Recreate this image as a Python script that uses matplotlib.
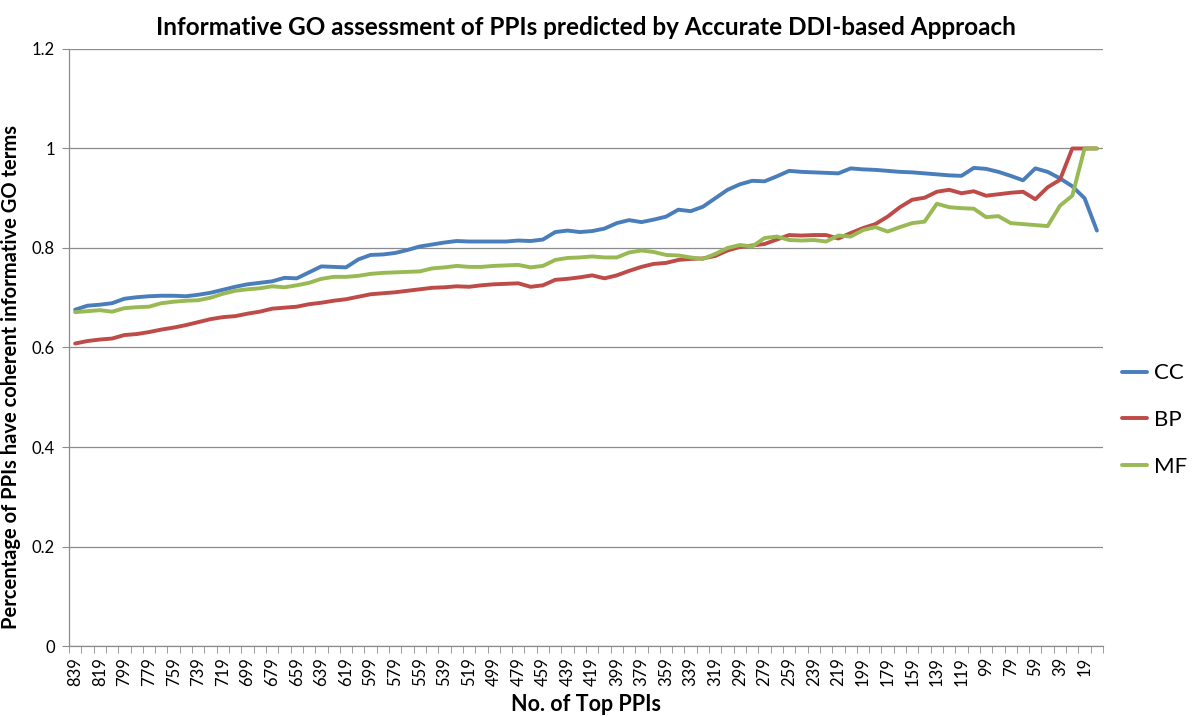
import matplotlib
matplotlib.use("Agg")
import matplotlib.pyplot as plt
import numpy as np

plt.rcParams['font.family'] = ['Lato', 'DejaVu Sans']

# Categories: No. of top PPIs (839 down to 9, step 10)
categories = [839 - 10 * k for k in range(84)]

cc = [0.676, 0.684, 0.686, 0.689, 0.698, 0.701, 0.703, 0.704, 0.704, 0.703, 0.706, 0.710, 0.716,
      0.722, 0.727, 0.730, 0.733, 0.740, 0.739, 0.751, 0.763, 0.762, 0.761, 0.777, 0.786, 0.787, 0.790,
      0.796, 0.803, 0.807, 0.811, 0.814, 0.813, 0.813, 0.813, 0.813, 0.815, 0.814, 0.817, 0.832, 0.835, 0.832,
      0.834, 0.839, 0.850, 0.856, 0.852, 0.857, 0.863, 0.877, 0.874, 0.883, 0.900, 0.917, 0.928, 0.935, 0.934, 0.944, 0.955,
      0.953, 0.952, 0.951, 0.950,
      0.960, 0.958, 0.957, 0.955, 0.953, 0.952, 0.950, 0.948, 0.946, 0.945, 0.961, 0.959, 0.953, 0.945, 0.936,
      0.960, 0.953, 0.940, 0.924, 0.900, 0.835]

bp = [0.608, 0.613, 0.616, 0.618, 0.625, 0.627, 0.631, 0.636, 0.640, 0.645, 0.651, 0.657, 0.661,
      0.663, 0.668, 0.672, 0.678, 0.680, 0.682, 0.687, 0.690, 0.694, 0.697, 0.702, 0.707, 0.709, 0.711,
      0.714, 0.717, 0.720, 0.721, 0.723, 0.722, 0.725, 0.727, 0.728, 0.729, 0.722, 0.725, 0.736, 0.738, 0.741,
      0.745, 0.739, 0.745, 0.754, 0.762, 0.768, 0.770, 0.776, 0.778, 0.779, 0.784, 0.795,
      0.802, 0.805, 0.808, 0.817, 0.826, 0.825, 0.826, 0.826, 0.819, 0.830, 0.840, 0.848, 0.863, 0.882,
      0.897, 0.901, 0.913, 0.917, 0.910, 0.914, 0.905, 0.908, 0.911, 0.913, 0.898, 0.922, 0.937, 1.0, 1.0, 1.0]

mf = [0.671, 0.673, 0.675, 0.672, 0.679, 0.681, 0.682, 0.689, 0.692, 0.694, 0.695, 0.700, 0.708,
      0.714, 0.717, 0.719, 0.723, 0.721, 0.725, 0.730, 0.738, 0.742, 0.742, 0.744, 0.748, 0.750, 0.751,
      0.752, 0.753, 0.759, 0.761, 0.764, 0.762, 0.762, 0.764, 0.765, 0.766, 0.761, 0.764, 0.776, 0.780, 0.781,
      0.783, 0.781, 0.781, 0.791, 0.795, 0.792, 0.786, 0.785, 0.781, 0.778, 0.788, 0.800,
      0.806, 0.803, 0.820, 0.823, 0.816, 0.815, 0.816, 0.813, 0.825, 0.823, 0.836, 0.842, 0.833, 0.842,
      0.850, 0.853, 0.889, 0.882, 0.880, 0.879, 0.862, 0.864, 0.850, 0.848, 0.846, 0.844, 0.885, 0.905, 1.0, 1.0]

series_names = ["CC", "BP", "MF"]
series_colors = ["#4A7EBB", "#BE4B48", "#98B954"]
y_ticks = [0, 0.2, 0.4, 0.6, 0.8, 1.0, 1.2]
y_ticklabels = ["0", "0.2", "0.4", "0.6", "0.8", "1", "1.2"]

fig = plt.figure(figsize=(12, 7.17), dpi=100)
ax = fig.add_axes([0.0575, 0.099, 0.8617, 0.8327])

x = np.arange(len(categories))
for vals, name, col in zip([cc, bp, mf], series_names, series_colors):
    ax.plot(x, vals, color=col, lw=2.8, label=name, solid_joinstyle='round', solid_capstyle='round')

ax.set_xlim(-0.5, len(categories) - 0.5)
ax.set_ylim(0, 1.2)
ax.set_yticks(y_ticks)
ax.set_yticklabels(y_ticklabels, fontsize=12)
ax.grid(axis='y', color='#8C8C8C', lw=0.9)
ax.set_axisbelow(True)

ax.set_xticks(x[::2])
ax.set_xticklabels([str(c) for c in categories[::2]], rotation=90, fontsize=12)
ax.set_xticks(np.arange(len(categories) + 1) - 0.5, minor=True)
ax.tick_params(axis='x', which='major', length=0, pad=8)
ax.tick_params(axis='x', which='minor', length=5, color='#8C8C8C', direction='out')
ax.tick_params(axis='y', length=5, color='#8C8C8C', pad=5)

for s in ['top', 'right']:
    ax.spines[s].set_visible(False)
for s in ['left', 'bottom']:
    ax.spines[s].set_color('#8C8C8C')
    ax.spines[s].set_linewidth(0.9)

ax.set_title("Informative GO assessment of PPIs predicted by Accurate DDI-based Approach",
             fontsize=17.5, fontweight='bold', pad=10)
ax.set_xlabel("No. of Top PPIs", fontsize=15.5, fontweight='bold', labelpad=6)
ax.set_ylabel("Percentage of PPIs have coherent informative GO terms", fontsize=14.5, fontweight='bold')
ax.yaxis.set_label_coords(-0.046, 0.45)

fig.legend(loc='center left', bbox_to_anchor=(0.918, 0.414), frameon=False, fontsize=16,
           handlelength=1.15, labelspacing=1.2, handletextpad=0.3)

fig.savefig("out.png", dpi=100)
